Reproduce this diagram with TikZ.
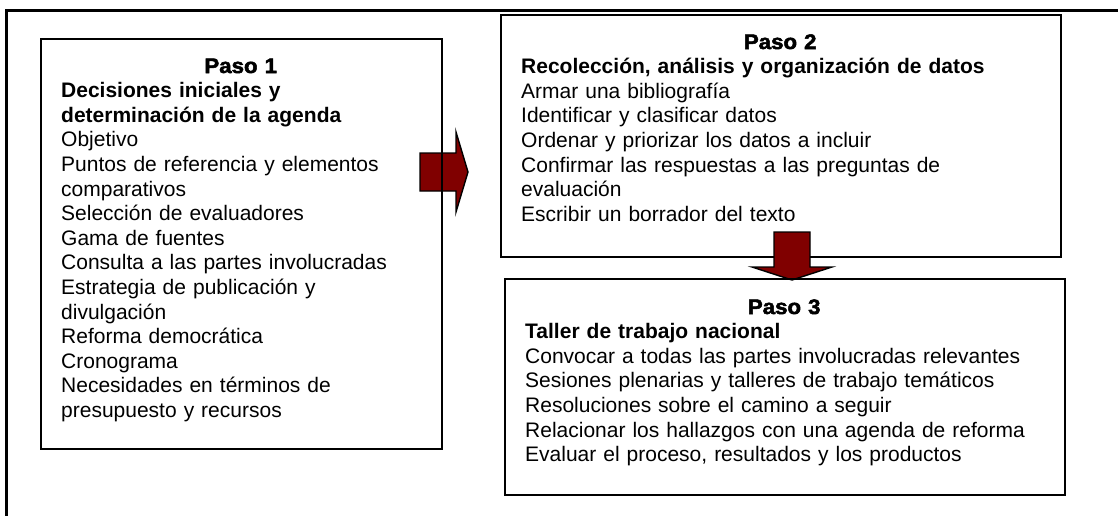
\documentclass[tikz,border=0pt]{standalone}
\usepackage{fontspec}
\setmainfont{Liberation Sans}
\newfontface\boldf{Liberation Sans Bold}[WordSpace=0.85]
\newfontface\pasof{Liberation Sans Bold}[FakeBold=2.4,FakeStretch=1.06]
\usetikzlibrary{calc}
\definecolor{arrowred}{RGB}{128,0,0}
\tikzset{
  stepbox/.style={draw=black, line width=1.6pt, fill=none, inner sep=0pt, anchor=north west},
  steptext/.style={anchor=base west, inner sep=0pt, font=\fontsize{21}{24.6}\selectfont},
  blockarrow/.style={fill=arrowred, draw=black, line width=1.4pt, line join=miter},
  frame/.style={line width=3pt, draw=black}
}
\begin{document}
\begin{tikzpicture}[x=1pt,y=-1pt]
\useasboundingbox (0,0) rectangle (1118,515);
% outer frame
\draw[frame] (6,516) -- (6,10) -- (1120,10);
% right arrow (under box 1 border)
\draw[blockarrow] (420,153) -- (456,153) -- (456,132) -- (468,172) -- (456,212) -- (456,191) -- (420,191) -- cycle;
% box 1
\node[stepbox, minimum width=401pt, minimum height=410pt] (b1) at (40,38) {};
\node[steptext, text width=359pt] (t1) at (61,73) {%
{\centering\pasof Paso 1\par}\raggedright
{\boldf Decisiones iniciales y\\determinación de la agenda}\\
Objetivo\\
Puntos de referencia y elementos\\
comparativos\\
Selección de evaluadores\\
Gama de fuentes\\
Consulta a las partes involucradas\\
Estrategia de publicación y\\
divulgación\\
Reforma democrática\\
Cronograma\\
Necesidades en términos de\\
presupuesto y recursos};
% box 2
\node[stepbox, minimum width=560pt, minimum height=242pt] (b2) at (500,14) {};
\node[steptext, text width=518pt] (t2) at (521,49) {%
{\centering\pasof Paso 2\par}\raggedright
{\boldf Recolección, análisis y organización de datos}\\
Armar una bibliografía\\
Identificar y clasificar datos\\
Ordenar y priorizar los datos a incluir\\
Confirmar las respuestas a las preguntas de\\
evaluación\\
Escribir un borrador del texto};
% down arrow (over box 2 border)
\draw[blockarrow] (774,232) -- (810,232) -- (810,267) -- (832,267) -- (792,280) -- (752,267) -- (774,267) -- cycle;
% box 3
\node[stepbox, minimum width=560pt, minimum height=216pt] (b3) at (504,278) {};
\node[steptext, text width=518pt] (t3) at (525,314) {%
{\centering\pasof Paso 3\par}\raggedright
{\boldf Taller de trabajo nacional}\\
Convocar a todas las partes involucradas relevantes\\
Sesiones plenarias y talleres de trabajo temáticos\\
Resoluciones sobre el camino a seguir\\
Relacionar los hallazgos con una agenda de reforma\\
Evaluar el proceso, resultados y los productos};
\end{tikzpicture}
\end{document}
